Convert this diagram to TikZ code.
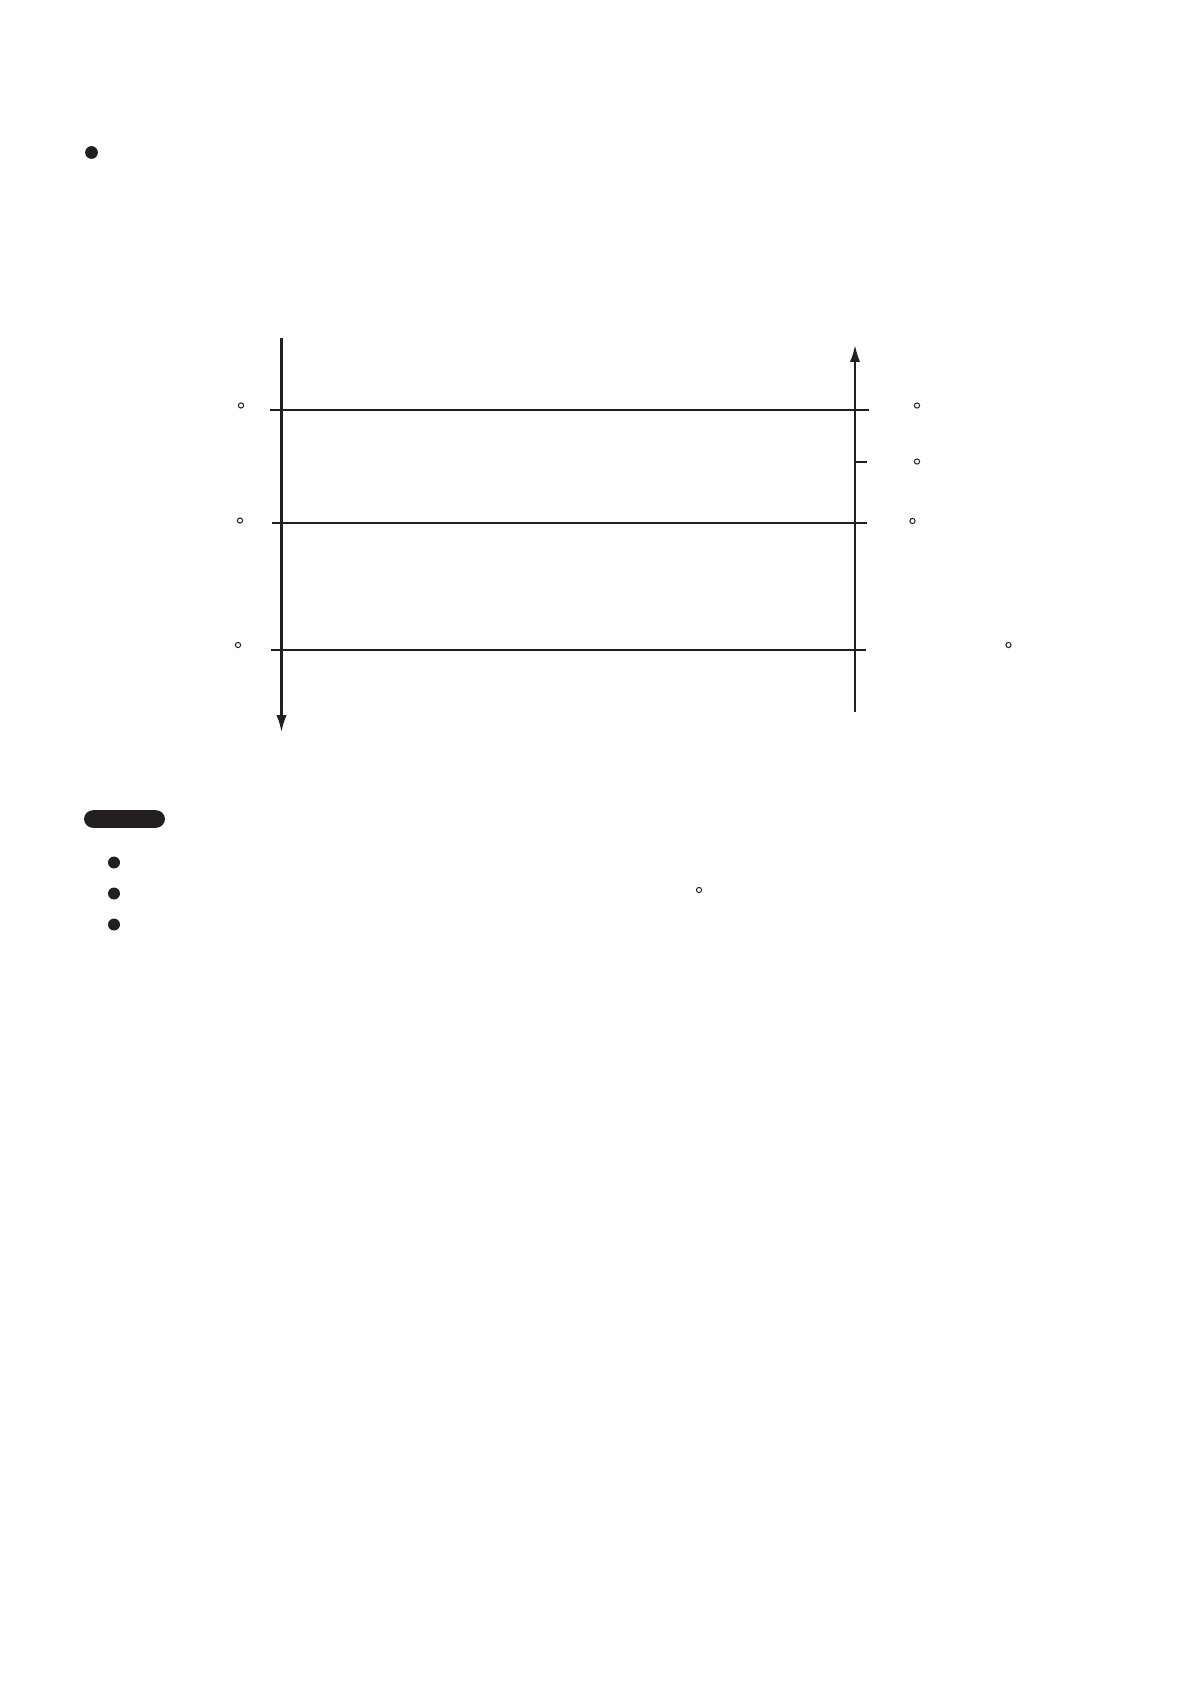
\documentclass[tikz,border=0pt]{standalone}
\usetikzlibrary{arrows.meta}
\definecolor{ink}{HTML}{231F20}
\begin{document}
\begin{tikzpicture}[x=0.5pt,y=-0.5pt,
  axis/.style={draw=ink,line width=1.1pt,-{Latex[length=8.5pt,width=5.2pt]}},
  rung/.style={draw=ink,line width=1pt},
  dotmark/.style={circle,draw=ink,line width=0.5pt,inner sep=0pt,minimum size=2.6pt},
  bigdot/.style={circle,fill=ink,inner sep=0pt,minimum size=#1},
  pill/.style={rounded corners=4.5pt,fill=ink,draw=none,inner sep=0pt,minimum width=40.5pt,minimum height=8.8pt}]
\useasboundingbox (0,0) rectangle (1190,1684);
% top bullet
\node[bigdot=6.4pt] (b0) at (91.5,152.5) {};
% axes
\coordinate (Ltop) at (281.5,338);
\coordinate (Lbot) at (281.5,732);
\coordinate (Rbot) at (855,712);
\coordinate (Rtop) at (855,345);
\draw[axis] (Ltop) -- (Lbot);
\draw[axis] (Rbot) -- (Rtop);
% rungs
\coordinate (a1) at (269.5,410); \coordinate (b1) at (869,410);
\coordinate (a2) at (272,523);   \coordinate (b2) at (867,523);
\coordinate (a3) at (270.5,650); \coordinate (b3) at (866,650);
\coordinate (t1) at (855,462);     \coordinate (t2) at (867,462);
\draw[rung] (a1) -- (b1);
\draw[rung] (a2) -- (b2);
\draw[rung] (a3) -- (b3);
\draw[rung] (t1) -- (t2);
% small marks
\node[dotmark] (m1) at (241,405.5) {};
\node[dotmark] (m2) at (240,520.5) {};
\node[dotmark] (m3) at (238,645) {};
\node[dotmark] (m4) at (917,405.5) {};
\node[dotmark] (m5) at (917,461.5) {};
\node[dotmark] (m6) at (912.5,521) {};
\node[dotmark] (m7) at (1008.5,645) {};
\node[dotmark] (m8) at (699,890) {};
% pill heading
\node[pill] (head) at (124.5,819) {};
% bullets
\node[bigdot=6pt] (c1) at (114,862.5) {};
\node[bigdot=6pt] (c2) at (114,893.5) {};
\node[bigdot=6pt] (c3) at (114,924.5) {};
\end{tikzpicture}
\end{document}
